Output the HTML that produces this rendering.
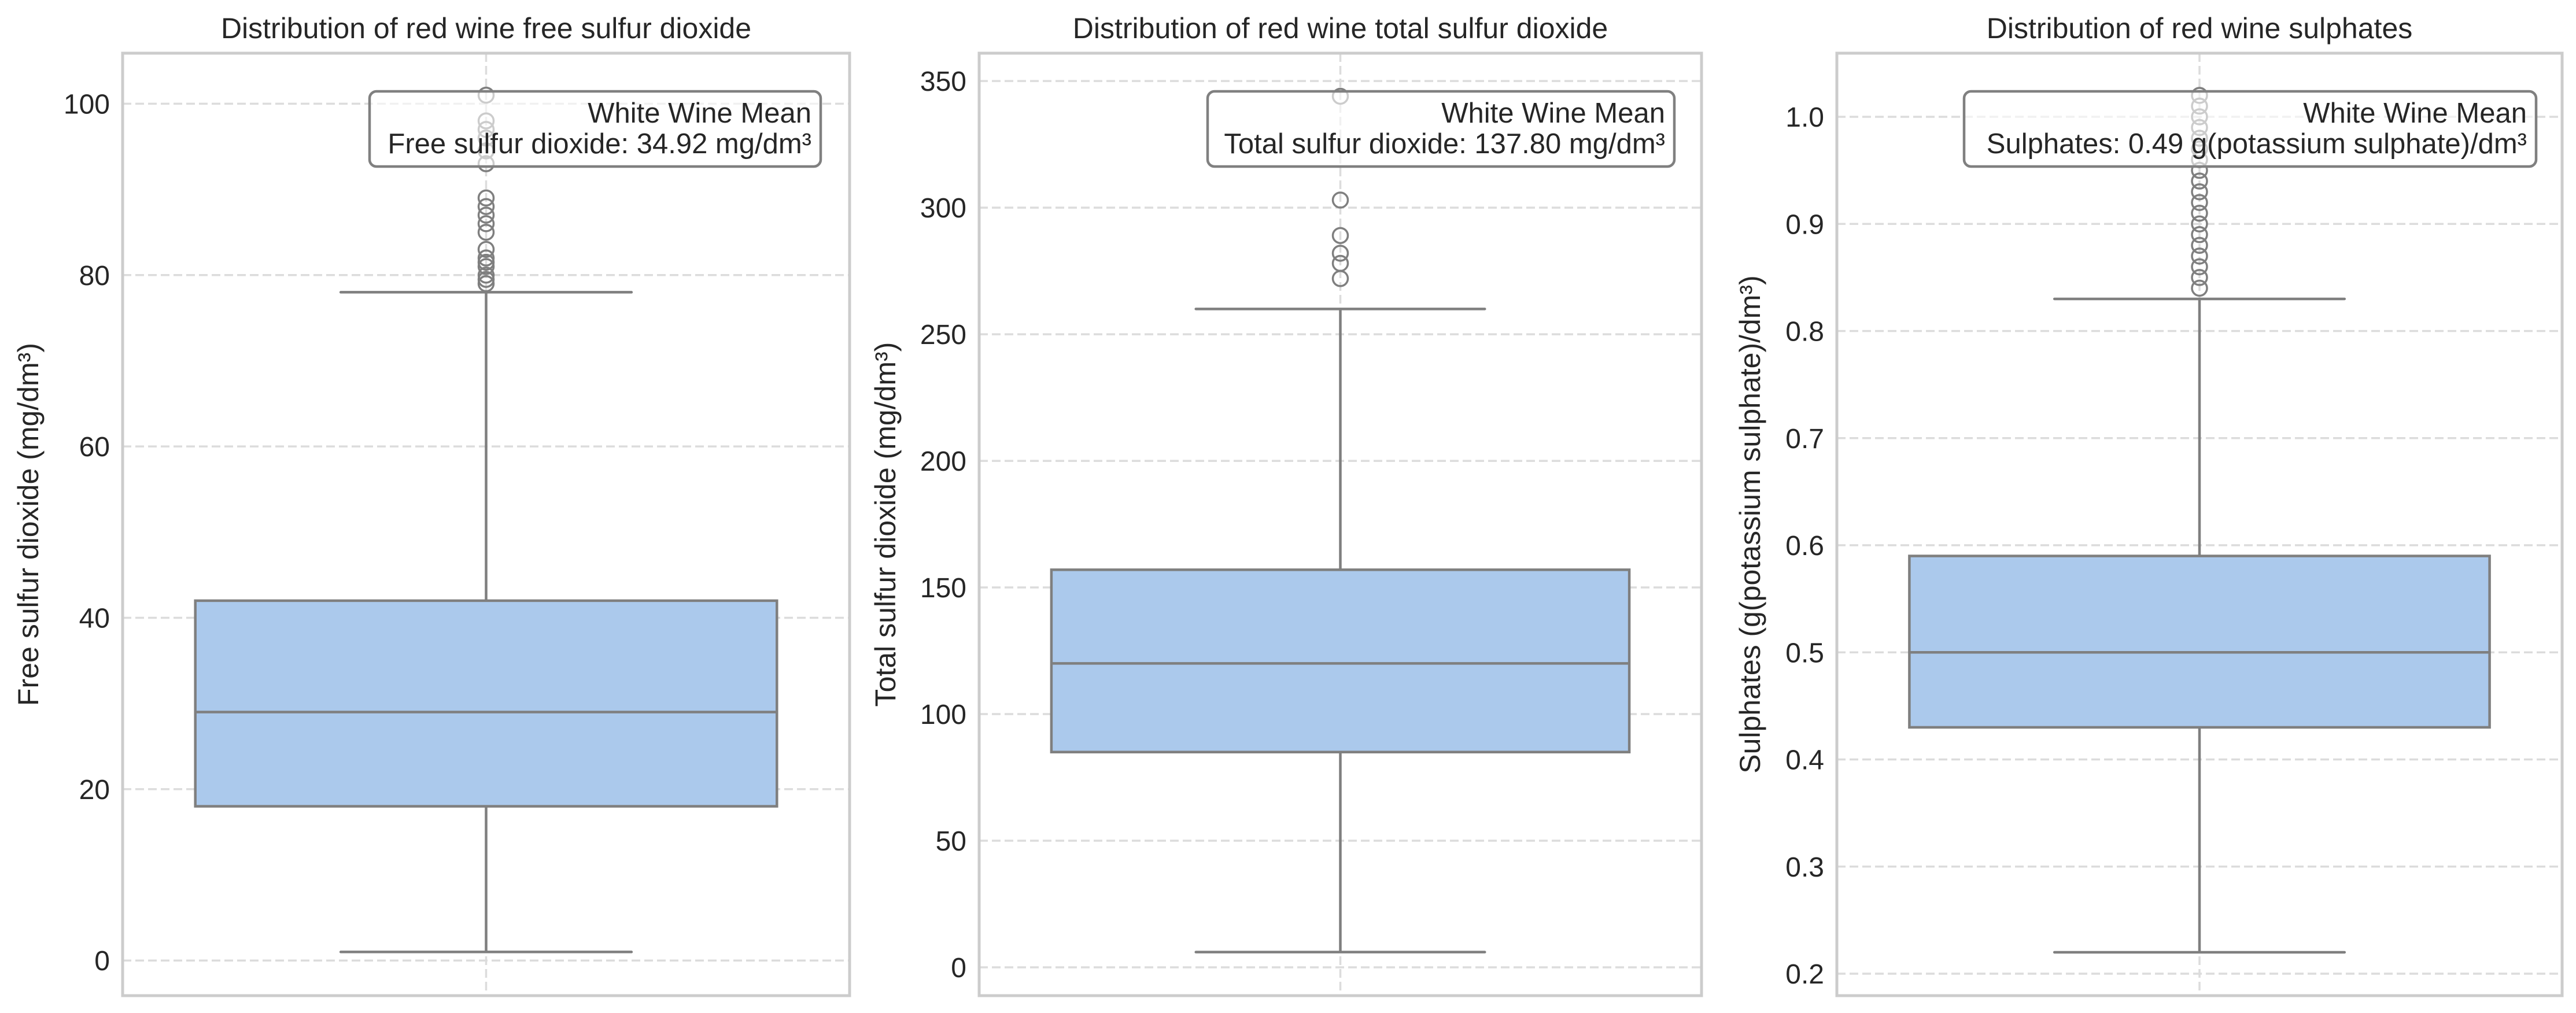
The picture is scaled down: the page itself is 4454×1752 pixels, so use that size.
<!DOCTYPE html>
<html><head><meta charset="utf-8"><style>
html,body{margin:0;padding:0;background:#fff;}
svg{display:block;font-family:"Liberation Sans",Arial,sans-serif;}
</style></head><body>
<svg id="chart" width="4454" height="1752" viewBox="0 0 4454 1752" xmlns="http://www.w3.org/2000/svg"></svg>
<script>
// Panel 1: free sulfur dioxide
const freeStats = [1, 18, 29, 42, 78]; // whiskerLow, q1, median, q3, whiskerHigh
const freeOutliers = [101, 98, 97, 96, 94.5, 93, 89, 88, 87, 86, 85, 83, 82, 81.5, 81, 80, 79.5, 79];
const freeTicks = [0, 20, 40, 60, 80, 100];
const freeDomain = [-4.1, 105.9];
// Panel 2: total sulfur dioxide
const totalStats = [6, 85, 120, 157, 260];
const totalOutliers = [344, 303, 289, 282, 278, 272];
const totalTicks = [0, 50, 100, 150, 200, 250, 300, 350];
const totalDomain = [-11.2, 361];
// Panel 3: sulphates
const sulStats = [0.22, 0.43, 0.50, 0.59, 0.83];
const sulOutliers = [0.84,0.85,0.86,0.87,0.88,0.89,0.90,0.91,0.92,0.93,0.94,0.95,0.96,0.97,0.98,0.99,1.00,1.01,1.02];
const sulTicks = [0.2,0.3,0.4,0.5,0.6,0.7,0.8,0.9,1.0];
const sulDomain = [0.1795, 1.0594];

const NS = "http://www.w3.org/2000/svg";
const svg = document.getElementById('chart');
function mk(tag, attrs, parent){
  const e = document.createElementNS(NS, tag);
  for (const k in attrs) e.setAttribute(k, attrs[k]);
  (parent||svg).appendChild(e);
  return e;
}
const panels = [
  {key:'free', stats:freeStats, out:freeOutliers, ticks:freeTicks, dom:freeDomain, fmt:v=>String(v),
   left:212, right:1469, title:'Distribution of red wine free sulfur dioxide', ylabel:'Free sulfur dioxide (mg/dm³)', labx:50,
   ann:['White Wine Mean','Free sulfur dioxide: 34.92 mg/dm³'], annL:639, annR:1419},
  {key:'total', stats:totalStats, out:totalOutliers, ticks:totalTicks, dom:totalDomain, fmt:v=>String(v),
   left:1693, right:2942, title:'Distribution of red wine total sulfur dioxide', ylabel:'Total sulfur dioxide (mg/dm³)', labx:1532,
   ann:['White Wine Mean','Total sulfur dioxide: 137.80 mg/dm³'], annL:2088, annR:2895},
  {key:'sulphates', stats:sulStats, out:sulOutliers, ticks:sulTicks, dom:sulDomain, fmt:v=>v.toFixed(1),
   left:3176, right:4430, title:'Distribution of red wine sulphates', ylabel:'Sulphates (g(potassium sulphate)/dm³)', labx:3027,
   ann:['White Wine Mean','Sulphates: 0.49 g(potassium sulphate)/dm³'], annL:3396, annR:4385}
];
const TOP = 92, BOT = 1722;
panels.forEach(p => {
  const g = mk('g', {});
  
  
  const y = v => BOT - (v - p.dom[0]) / (p.dom[1] - p.dom[0]) * (BOT - TOP);
  const cx = (p.left + p.right) / 2;
  const w = p.right - p.left;
  p.ticks.forEach(t => {
    const l = mk('line', {x1:p.left, x2:p.right, y1:y(t), y2:y(t), stroke:'#dcdcdc', 'stroke-width':3.5, 'stroke-dasharray':'15,7'}, g);
    
    
    const tx = mk('text', {x:p.left - 22, y:y(t) + 17, 'text-anchor':'end', 'font-size':48, fill:'#262626'}, g);
    tx.textContent = p.fmt(t);
    
    
  });
  const vg = mk('line', {x1:cx, x2:cx, y1:TOP, y2:BOT, stroke:'#dcdcdc', 'stroke-width':3.5, 'stroke-dasharray':'15,7'}, g);
  
  
  const s = p.stats;
  const boxL = p.left + w * 0.1, boxR = p.right - w * 0.1;
  const capL = cx - w * 0.2, capR = cx + w * 0.2;
  const wh = mk('path', {d:`M${cx},${y(s[1])}V${y(s[0])}M${cx},${y(s[3])}V${y(s[4])}M${capL},${y(s[0])}H${capR}M${capL},${y(s[4])}H${capR}`, stroke:'#7f7f7f', 'stroke-width':4.5, fill:'none', 'stroke-linecap':'round'}, g);
  
  
  const box = mk('rect', {x:boxL, y:y(s[3]), width:boxR - boxL, height:y(s[1]) - y(s[3]), fill:'#abc9ec', stroke:'#7f7f7f', 'stroke-width':4.5}, g);
  
  
  const med = mk('line', {x1:boxL, x2:boxR, y1:y(s[2]), y2:y(s[2]), stroke:'#7f7f7f', 'stroke-width':4.5}, g);
  
  
  p.out.forEach(v => {
    const c = mk('circle', {cx:cx, cy:y(v), r:13, fill:'none', stroke:'#7f7f7f', 'stroke-width':3.5}, g);
    
    
  });
  const sp = mk('rect', {x:p.left, y:TOP, width:w, height:BOT - TOP, fill:'none', stroke:'#cccccc', 'stroke-width':5}, g);
  
  
  const ab = mk('rect', {x:p.annL, y:158, width:p.annR - p.annL, height:130, rx:12, fill:'rgba(255,255,255,0.6)', stroke:'#808080', 'stroke-width':4.5}, g);
  
  
  p.ann.forEach((t, i) => {
    const tx = mk('text', {x:p.annR - 16, y:212 + i * 53, 'text-anchor':'end', 'font-size':49, fill:'#262626'}, g);
    tx.textContent = t;
    
    
  });
  const ti = mk('text', {x:cx, y:66, 'text-anchor':'middle', 'font-size':50, fill:'#262626'}, g);
  ti.textContent = p.title;
  
  
  const yl = mk('text', {x:0, y:0, 'text-anchor':'middle', 'font-size':50, fill:'#262626', transform:`translate(${p.labx + 16},${(TOP + BOT) / 2}) rotate(-90)`}, g);
  yl.textContent = p.ylabel;
  
  
});
</script>
</body></html>
